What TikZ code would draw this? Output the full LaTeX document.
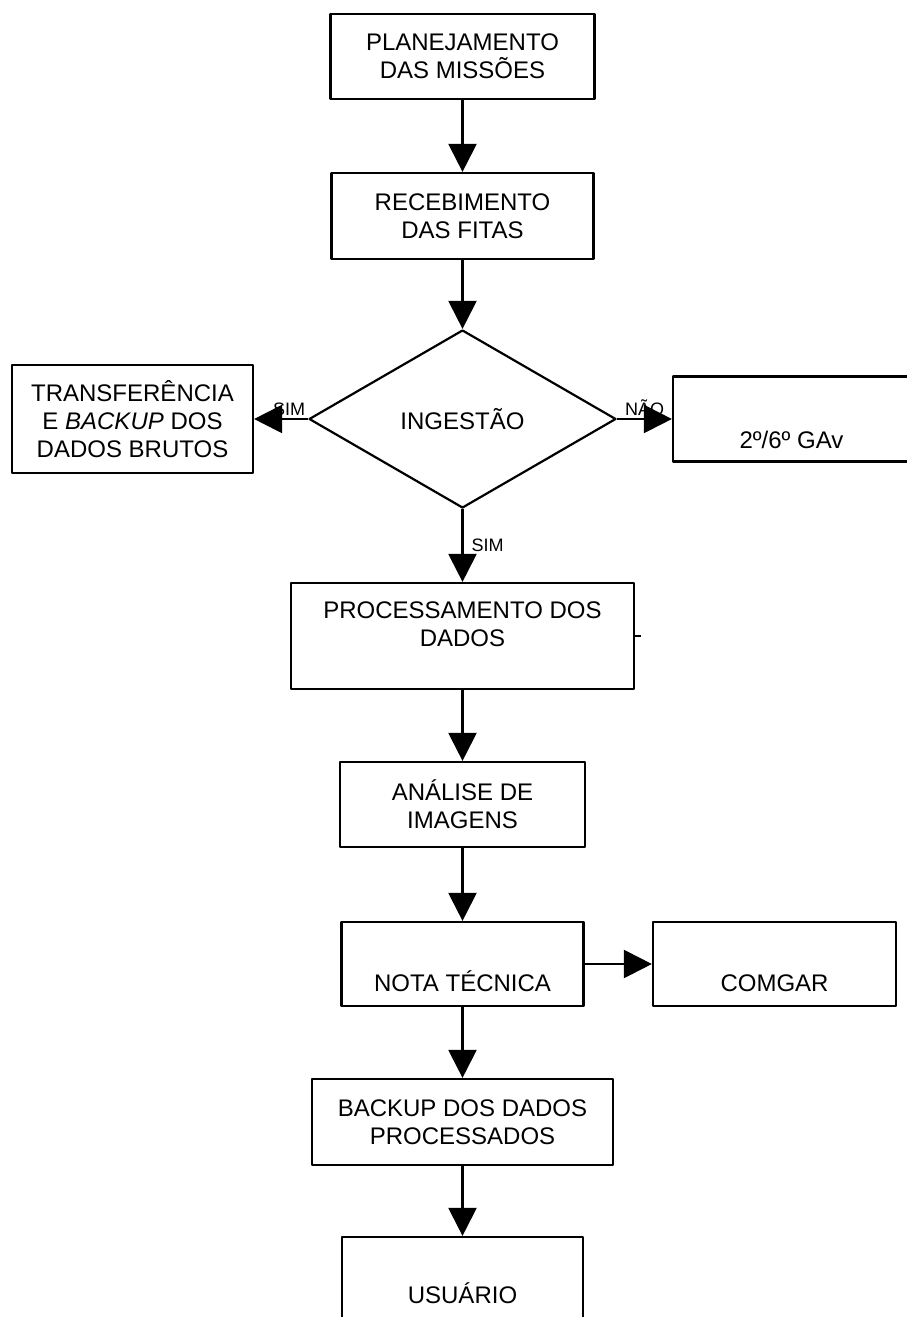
\documentclass[tikz,border=0pt]{standalone}
\usepackage{fontspec}
\setmainfont{Liberation Sans}
\usetikzlibrary{shapes.geometric,arrows.meta}

\begin{document}
\begin{tikzpicture}[x=0.5pt, y=-0.5pt, line join=round, line width=1.1pt,
 >={Triangle[length=14pt,width=14pt]},
 caixa/.style={draw, rectangle, inner sep=0pt, font=\fontsize{12}{14}\selectfont},
 decisao/.style={draw, diamond, inner sep=0pt, font=\fontsize{12}{14}\selectfont},
 rotulo/.style={inner sep=1pt, font=\fontsize{9}{10}\selectfont}]
 \useasboundingbox (0,0) rectangle (906,1317);
 % coluna principal
 \node[caixa, align=center, minimum width=132pt, minimum height=42.5pt] (plan) at (462.5,56.5) {PLANEJAMENTO\\DAS MISSÕES};
 \node[caixa, align=center, minimum width=131pt, minimum height=43pt] (receb) at (462.5,216) {RECEBIMENTO\\DAS FITAS};
 \node[decisao, minimum width=153.5pt, minimum height=89pt] (ingest) at (462.5,419) {INGESTÃO};
 \node[caixa, align=center, minimum width=120.5pt, minimum height=54pt] (transf) at (132.5,419) {TRANSFERÊNCIA\\E \textit{BACKUP} DOS\\DADOS BRUTOS};
 \node[caixa, minimum width=118.5pt, text height=36pt, text depth=6.5pt] (gav) at (791.5,419) {2º/6º GAv};
 \node[caixa, align=center, minimum width=171.5pt, minimum height=53pt] (proc) at (462.5,636) {PROCESSAMENTO DOS\\DADOS\\[-2pt]~};
 \node[caixa, align=center, minimum width=122.5pt, minimum height=42.5pt] (anal) at (462.5,804.5) {ANÁLISE DE\\IMAGENS};
 \node[caixa, minimum width=121pt, text height=34.5pt, text depth=7.5pt] (nota) at (462.5,964) {NOTA TÉCNICA};
 \node[caixa, minimum width=121.5pt, text height=34.5pt, text depth=7.5pt] (comgar) at (774.5,964) {COMGAR};
 \node[caixa, align=center, minimum width=150.5pt, minimum height=43pt] (backup) at (462.5,1122) {BACKUP DOS DADOS\\PROCESSADOS};
 \node[caixa, minimum width=120.5pt, text height=33pt, text depth=9pt] (usu) at (462.5,1279) {USUÁRIO};
 % ligacoes
 \draw[->] (plan) -- (receb);
 \draw[->] (receb) -- (ingest);
 \draw[->] (ingest) -- node[rotulo, above, pos=0.35] {SIM} (transf);
 \draw[->] (ingest) -- node[rotulo, above] {NÃO} (gav);
 \draw[->] (ingest) -- node[rotulo, right=3pt, pos=0.5] {SIM} (proc);
 \draw (proc.east) -- ++(6,0);
 \draw[->] (proc) -- (anal);
 \draw[->] (anal) -- (nota);
 \draw[->] (nota) -- (comgar);
 \draw[->] (nota) -- (backup);
 \draw[->] (backup) -- (usu);
\end{tikzpicture}
\end{document}
